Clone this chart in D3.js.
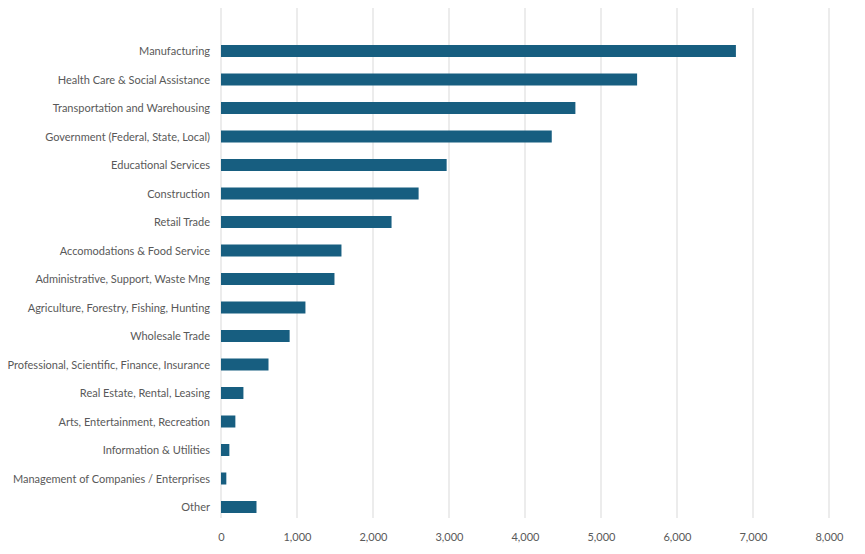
<!DOCTYPE html>
<html>
<head>
<meta charset="utf-8">
<script src="https://cdn.jsdelivr.net/npm/d3@7"></script>
<style>
  body { margin: 0; background: #fff; }
  text { font-family: Lato, sans-serif; font-size: 11px; fill: #595959; }
</style>
</head>
<body>
<div id="chart"></div>
<script>
var categories = ["Manufacturing", "Health Care & Social Assistance", "Transportation and Warehousing",
  "Government (Federal, State, Local)", "Educational Services", "Construction", "Retail Trade",
  "Accomodations & Food Service", "Administrative, Support, Waste Mng",
  "Agriculture, Forestry, Fishing, Hunting", "Wholesale Trade",
  "Professional, Scientific, Finance, Insurance", "Real Estate, Rental, Leasing",
  "Arts, Entertainment, Recreation", "Information & Utilities",
  "Management of Companies / Enterprises", "Other"];
var values = [6775, 5475, 4663, 4352, 2969, 2600, 2244, 1585, 1493, 1111, 903, 625, 295, 189, 110, 70, 467];
var ticks = [0, 1000, 2000, 3000, 4000, 5000, 6000, 7000, 8000];

var margin = {top: 8, right: 36, bottom: 36, left: 221},
    width = 865 - margin.left - margin.right,
    height = 554 - margin.top - margin.bottom;

var svg = d3.select("#chart").append("svg")
  .attr("width", 865).attr("height", 554)
  .append("g")
  .attr("transform", "translate(" + margin.left + "," + margin.top + ")");

var x = d3.scaleLinear().domain([0, 8000]).range([0, 608]);
var y = d3.scalePoint().domain(categories).range([43, 499]);
var barH = 12;

// gridlines
svg.selectAll("line.grid")
  .data(ticks)
  .enter().append("line")
  .attr("x1", function(d) { return x(d); })
  .attr("x2", function(d) { return x(d); })
  .attr("y1", 0).attr("y2", height)
  .attr("stroke", "#d9d9d9").attr("stroke-width", 1);

// bars
svg.selectAll("rect")
  .data(values)
  .enter().append("rect")
  .attr("x", x(0))
  .attr("y", function(d, i) { return y(categories[i]) - barH / 2; })
  .attr("width", function(d) { return x(d) - x(0); })
  .attr("height", barH)
  .attr("fill", "#175e80");

// x axis
var xAxis = svg.append("g")
  .attr("transform", "translate(0," + height + ")")
  .call(d3.axisBottom(x).tickValues(ticks).tickFormat(d3.format(",")).tickSize(0).tickPadding(15));
xAxis.select(".domain").remove();

// y axis
var yAxis = svg.append("g")
  .call(d3.axisLeft(y).tickSize(0).tickPadding(11));
yAxis.select(".domain").remove();
</script>
</body>
</html>
